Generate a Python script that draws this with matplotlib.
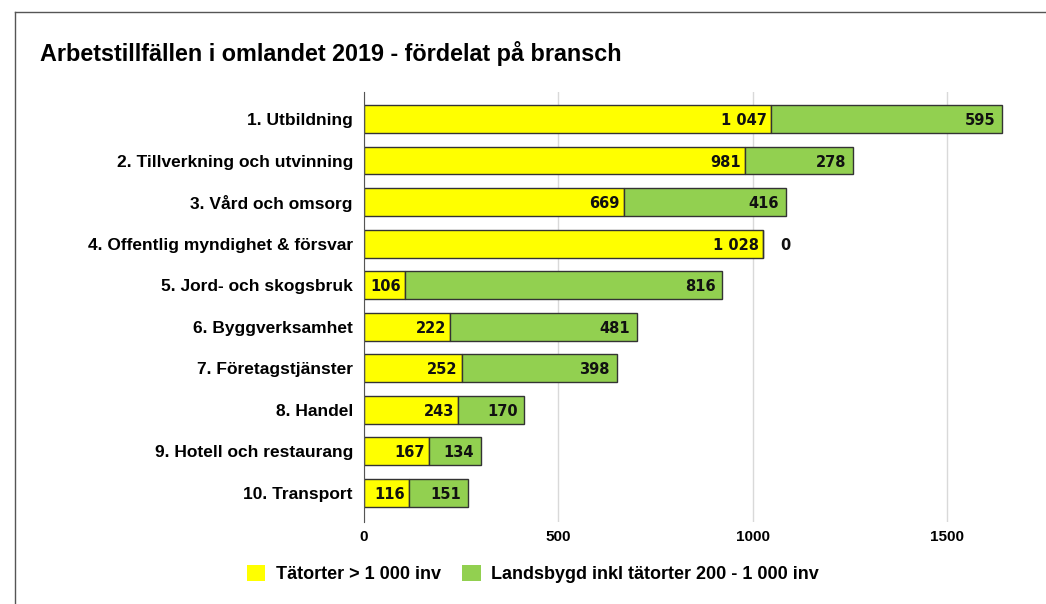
import matplotlib
matplotlib.use("Agg")
import matplotlib.pyplot as plt
from matplotlib.patches import Patch
from matplotlib.lines import Line2D

categories = ["1. Utbildning", "2. Tillverkning och utvinning", "3. Vård och omsorg",
              "4. Offentlig myndighet & försvar", "5. Jord- och skogsbruk",
              "6. Byggverksamhet", "7. Företagstjänster", "8. Handel",
              "9. Hotell och restaurang", "10. Transport"]
tatorter = [1047, 981, 669, 1028, 106, 222, 252, 243, 167, 116]
landsbygd = [595, 278, 416, 0, 816, 481, 398, 170, 134, 151]
series_names = ["Tätorter > 1 000 inv", "Landsbygd inkl tätorter 200 - 1 000 inv"]
xticks = [0, 500, 1000, 1500]

yellow = "#FFFF00"
green = "#92D050"

def fmt(v):
    return f"{v:,}".replace(",", " ")

fig = plt.figure(figsize=(10.46, 6.04), dpi=100)
ax = fig.add_axes([0.348, 0.1358, 0.6315, 0.7119])

ypos = list(range(len(categories)))
ax.barh(ypos, tatorter, height=0.67, color=yellow, edgecolor="#333333", linewidth=1, zorder=3)
ax.barh(ypos, landsbygd, left=tatorter, height=0.67, color=green, edgecolor="#333333",
        linewidth=1, zorder=3)

lab_font = dict(family="DejaVu Sans", fontweight="bold", fontsize=10.5, color="#111111")
for y, a, b in zip(ypos, tatorter, landsbygd):
    ax.annotate(fmt(a), (a, y), xytext=(-3, 0), textcoords="offset points",
                ha="right", va="center_baseline", zorder=5, **lab_font)
    if b > 0:
        ax.annotate(fmt(b), (a + b, y), xytext=(-5, 0), textcoords="offset points",
                    ha="right", va="center_baseline", zorder=5, **lab_font)
    else:
        ax.annotate(fmt(b), (a + b, y), xytext=(12, 0), textcoords="offset points",
                    ha="left", va="center_baseline", zorder=5, **lab_font)

ax.set_xlim(0, 1700)
ax.set_ylim(9.7, -0.65)
ax.set_yticks(ypos)
ax.set_yticklabels(categories, fontsize=12.5, fontweight="bold", family="Liberation Sans")
ax.set_xticks(xticks)
ax.set_xticklabels([str(t) for t in xticks], fontsize=11, fontweight="bold",
                   family=["Liberation Sans Narrow", "Liberation Sans"])
ax.tick_params(axis="both", length=0)
ax.tick_params(axis="y", pad=8)
ax.tick_params(axis="x", pad=6)
ax.grid(axis="x", color="#d9d9d9", linewidth=1, zorder=0)
for s in ["top", "right", "bottom"]:
    ax.spines[s].set_visible(False)
ax.spines["left"].set_color("#555555")
ax.spines["left"].set_zorder(4)

fig.text(40 / 1046, 1 - 54 / 604, "Arbetstillfällen i omlandet 2019 - fördelat på bransch",
         fontsize=16.8, fontweight="bold", family="Liberation Sans", ha="left", va="center")

handles = [Patch(facecolor=yellow, edgecolor="none"), Patch(facecolor=green, edgecolor="none")]
fig.legend(handles, series_names, loc="center", bbox_to_anchor=(533 / 1046, 1 - 574 / 604),
           ncol=2, frameon=False, handlelength=1.0, handleheight=1.0, handletextpad=0.6,
           columnspacing=1.2,
           prop=dict(family=["Liberation Sans Narrow", "Liberation Sans"], weight="bold", size=13))

# border at top and left
fig.add_artist(Line2D([15 / 1046, 1], [1 - 12 / 604, 1 - 12 / 604], color="#555555", linewidth=1))
fig.add_artist(Line2D([15 / 1046, 15 / 1046], [0, 1 - 12 / 604], color="#555555", linewidth=1))

fig.savefig("out.png", dpi=100)
